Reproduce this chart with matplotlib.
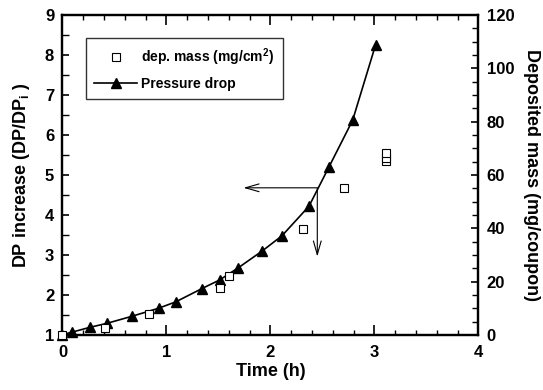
import numpy as np
import matplotlib.pyplot as plt
from matplotlib.ticker import MultipleLocator

plt.rcParams['font.family'] = ['Liberation Sans', 'DejaVu Sans']
plt.rcParams['font.weight'] = 'bold'
plt.rcParams['mathtext.fontset'] = 'custom'
plt.rcParams['mathtext.rm'] = 'Liberation Sans:bold'
plt.rcParams['mathtext.bf'] = 'Liberation Sans:bold'
plt.rcParams['mathtext.it'] = 'Liberation Sans:bold'

# pressure drop ratio vs time
time_dp = [0.0, 0.09, 0.26, 0.425, 0.67, 0.925, 1.09, 1.34, 1.51, 1.69,
           1.92, 2.11, 2.37, 2.56, 2.79, 3.01]
dp_ratio = [1.01, 1.07, 1.19, 1.29, 1.47, 1.67, 1.83, 2.16, 2.375, 2.68,
            3.1, 3.48, 4.22, 5.19, 6.37, 8.25]

# deposited mass (mg/coupon) vs time
time_mass = [0.0, 0.41, 0.835, 1.51, 1.60, 2.31, 2.71, 3.11, 3.11, 3.11]
dep_mass = [0.0, 2.6, 7.9, 17.8, 22.1, 39.9, 55.2, 65.3, 66.3, 68.3]

# arrow pointing each curve to its own axis
arrow_t, arrow_dp = 2.45, 4.68
arrow_left_end = 1.74
arrow_down_end = 2.96

fig = plt.figure(figsize=(5.43, 3.90), dpi=100)
ax = fig.add_axes([0.1151, 0.141, 0.7661, 0.8205])
ax2 = ax.twinx()

tri, = ax.plot(time_dp, dp_ratio, color='black', lw=1.2, marker='^',
               markersize=7.5, clip_on=False, zorder=5, label='Pressure drop')
sq, = ax2.plot(time_mass, dep_mass, ls='none', marker='s', markersize=5.5,
               markerfacecolor='white', markeredgecolor='black',
               markeredgewidth=0.8, clip_on=False, zorder=4,
               label='dep. mass (mg/cm$^2$)')

ax.set_xlim(0, 4)
ax.set_ylim(1, 9)
ax2.set_ylim(0, 120)

ax.xaxis.set_major_locator(MultipleLocator(1))
ax.xaxis.set_minor_locator(MultipleLocator(0.2))
ax.yaxis.set_major_locator(MultipleLocator(1))
ax.yaxis.set_minor_locator(MultipleLocator(0.5))
ax2.yaxis.set_major_locator(MultipleLocator(20))
ax2.yaxis.set_minor_locator(MultipleLocator(5))

ax.tick_params(axis='x', which='both', direction='in', top=True, labelsize=12, pad=7)
ax.tick_params(axis='x', which='major', length=7, width=1.2)
ax.tick_params(axis='x', which='minor', length=3.5, width=1.0)
ax.tick_params(axis='y', which='both', direction='in', right=False, labelsize=12, pad=6)
ax.tick_params(axis='y', which='major', length=5, width=1.2)
ax.tick_params(axis='y', which='minor', length=5, width=1.0)
ax2.tick_params(axis='y', which='both', direction='in', labelsize=12, pad=6)
ax2.tick_params(axis='y', which='major', length=5, width=1.2)
ax2.tick_params(axis='y', which='minor', length=4, width=1.0)

for a in (ax, ax2):
    for s in a.spines.values():
        s.set_linewidth(1.6)

ax.set_xlabel('Time (h)', fontsize=13, fontweight='bold', labelpad=2)
ax.set_ylabel(r'DP increase (DP/DP$_{\mathrm{i}}$ )', fontsize=13,
              fontweight='bold', labelpad=9)
ax2.set_ylabel('Deposited mass (mg/coupon)', fontsize=13, fontweight='bold',
               rotation=-90, va='bottom', labelpad=6)

arrow_kw = dict(arrowstyle='->,head_length=0.7,head_width=0.2', lw=0.8,
                color='black', mutation_scale=14, shrinkA=0, shrinkB=0)
ax.annotate('', xy=(arrow_left_end, arrow_dp), xytext=(arrow_t, arrow_dp),
            arrowprops=arrow_kw)
ax.annotate('', xy=(arrow_t, arrow_down_end), xytext=(arrow_t, arrow_dp),
            arrowprops=arrow_kw)

leg = ax.legend(handles=[sq, tri], loc='upper left', bbox_to_anchor=(0.056, 0.927),
                borderaxespad=0, handlelength=3.1, handletextpad=0.3,
                frameon=True, fancybox=False, edgecolor='black', borderpad=0.6,
                labelspacing=0.6, prop={'weight': 'bold', 'size': 10})
leg.get_frame().set_linewidth(1.0)
leg.set_zorder(10)

fig.savefig('out.png', dpi=100)
